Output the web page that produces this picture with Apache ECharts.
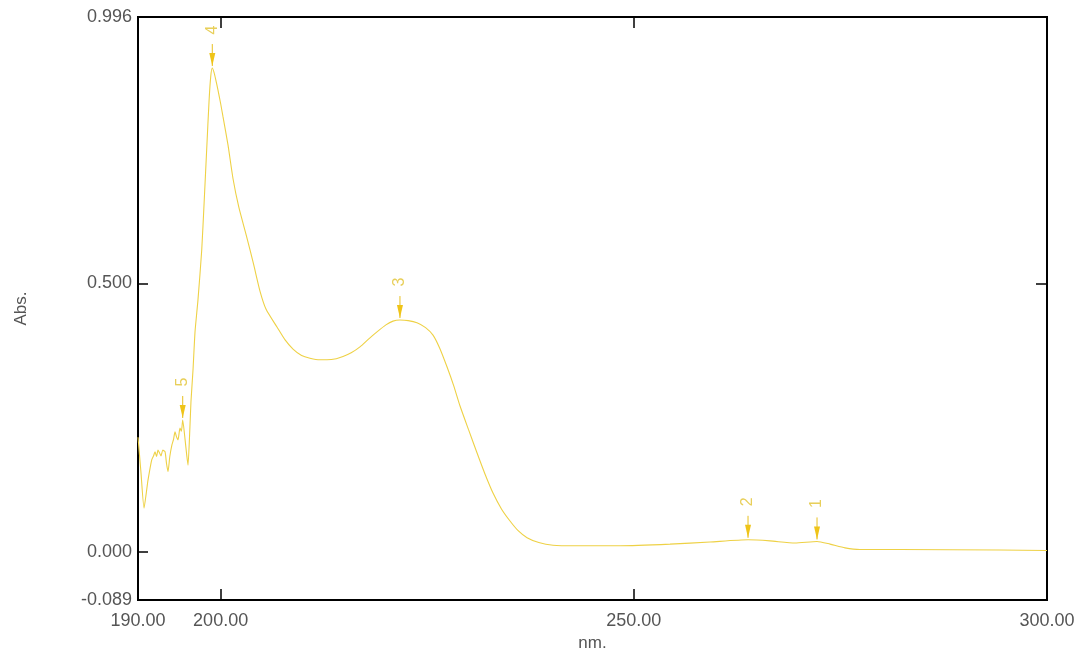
<!DOCTYPE html>
<html>
<head>
<meta charset="utf-8">
<script src="https://cdn.jsdelivr.net/npm/echarts@6/dist/echarts.min.js"></script>
<style>html,body{margin:0;padding:0;background:#fff}#c{width:1076px;height:650px}</style>
</head>
<body>
<div id="c"></div>
<script>
// Spectrum: wavelength (nm) and absorbance
const wavelengths = [190.00,190.35,190.73,191.00,191.21,191.66,191.90,192.06,192.25,192.42,192.60,192.78,193.00,193.27,193.45,193.63,193.85,194.11,194.30,194.48,194.65,194.84,195.08,195.25,195.41,195.70,195.90,196.05,196.25,196.41,196.66,196.90,197.26,197.71,198.00,198.31,198.60,198.80,198.99,199.20,199.40,199.68,200.00,200.29,200.89,201.50,202.20,203.15,204.00,204.76,205.50,206.82,207.80,208.76,209.80,210.81,212.00,212.87,214.00,214.81,215.80,216.86,218.00,218.92,220.00,220.86,221.70,222.70,223.76,224.80,225.70,226.50,227.39,228.20,228.97,230.00,231.02,232.00,232.96,234.00,235.02,236.00,237.08,238.50,240.22,242.88,248.33,254.38,259.22,263.82,266.48,269.50,272.17,273.74,275.56,277.37,282.21,294.31,300.00];
const absorbance = [0.214,0.150,0.082,0.110,0.134,0.172,0.180,0.187,0.178,0.190,0.185,0.179,0.190,0.187,0.165,0.150,0.178,0.200,0.210,0.224,0.215,0.209,0.231,0.225,0.246,0.209,0.180,0.162,0.220,0.280,0.340,0.410,0.470,0.562,0.650,0.749,0.840,0.885,0.901,0.893,0.880,0.860,0.835,0.810,0.758,0.695,0.642,0.587,0.535,0.486,0.452,0.419,0.395,0.378,0.366,0.361,0.358,0.358,0.360,0.364,0.371,0.382,0.398,0.410,0.423,0.430,0.432,0.431,0.427,0.418,0.404,0.380,0.345,0.310,0.272,0.228,0.185,0.145,0.110,0.080,0.058,0.040,0.027,0.018,0.013,0.012,0.012,0.015,0.019,0.023,0.021,0.017,0.020,0.015,0.008,0.005,0.005,0.004,0.003];

// Picked peaks
const peakLabels = ['1','2','3','4','5'];
const peakNm = [272.17,263.82,221.70,198.99,195.41];
const peakAbs = [0.020,0.023,0.432,0.901,0.246];

// Axis ticks / labels
const xLabelValues = [190,200,250,300];
const xTickValues = [200,250];
const yLabelValues = [-0.089,0,0.5,0.996];
const yTickValuesLeft = [0,0.5];
const yTickValuesRight = [0.5];

const FONT = 'Liberation Sans, Arial, sans-serif';
const TXT = '#555555';

const chart = echarts.init(document.getElementById('c'));
const lineData = wavelengths.map((w,i)=>[w,absorbance[i]]);
const peakData = peakNm.map((w,i)=>[w,peakAbs[i]]);

chart.setOption({
  animation:false,
  backgroundColor:'#fff',
  grid:{left:138,top:17,right:29,bottom:50,containLabel:false,outerBoundsMode:'none',show:true,borderColor:'#000',borderWidth:2,backgroundColor:'transparent'},
  xAxis:[{
    type:'value',min:190,max:300,position:'bottom',
    name:'nm.',nameLocation:'middle',nameGap:26,
    nameTextStyle:{color:TXT,fontSize:17,fontFamily:FONT},
    axisLine:{show:false,onZero:false},splitLine:{show:false},
    axisTick:{show:true,inside:true,length:11,customValues:xTickValues,lineStyle:{color:'#000',width:1.5}},
    axisLabel:{customValues:xLabelValues,showMinLabel:true,showMaxLabel:true,margin:12,color:TXT,fontSize:18,fontFamily:FONT,formatter:v=>v.toFixed(2)}
  },{
    type:'value',min:190,max:300,position:'top',
    axisLine:{show:false,onZero:false},splitLine:{show:false},
    axisTick:{show:true,inside:true,length:11,customValues:xTickValues,lineStyle:{color:'#000',width:1.5}},
    axisLabel:{show:false}
  }],
  yAxis:[{
    type:'value',min:-0.089,max:0.996,position:'left',
    name:'Abs.',nameLocation:'middle',nameGap:108,
    nameTextStyle:{color:TXT,fontSize:17,fontFamily:FONT},
    axisLine:{show:false,onZero:false},splitLine:{show:false},
    axisTick:{show:true,inside:true,length:10,customValues:yTickValuesLeft,lineStyle:{color:'#000',width:1.5}},
    axisLabel:{customValues:yLabelValues,showMinLabel:true,showMaxLabel:true,margin:6,color:TXT,fontSize:18,fontFamily:FONT,formatter:v=>v.toFixed(3)}
  },{
    type:'value',min:-0.089,max:0.996,position:'right',
    axisLine:{show:false,onZero:false},splitLine:{show:false},
    axisTick:{show:true,inside:true,length:11,customValues:yTickValuesRight,lineStyle:{color:'#000',width:1.5}},
    axisLabel:{show:false}
  }],
  series:[{
    type:'line',data:lineData,xAxisIndex:0,yAxisIndex:0,
    showSymbol:false,smooth:0.2,
    lineStyle:{color:'#eed145',width:1.1},
    z:2
  },{
    type:'custom',xAxisIndex:0,yAxisIndex:0,data:peakData,z:3,
    renderItem:function(params,api){
      const p = api.coord([api.value(0),api.value(1)]);
      const x = p[0], tip = p[1]-2;
      return {type:'group',children:[
        {type:'line',shape:{x1:x,y1:tip-22,x2:x,y2:tip},style:{stroke:'#e8c020',lineWidth:1}},
        {type:'polygon',shape:{points:[[x-3,tip-13],[x+3,tip-13],[x,tip]]},style:{fill:'#efc418'}},
        {type:'text',x:x,y:tip-36,rotation:Math.PI/2,
          style:{text:peakLabels[params.dataIndex],fill:'#e8cf5a',font:'16px '+FONT,align:'center',verticalAlign:'middle'}}
      ]};
    }
  }]
});
</script>
</body>
</html>
